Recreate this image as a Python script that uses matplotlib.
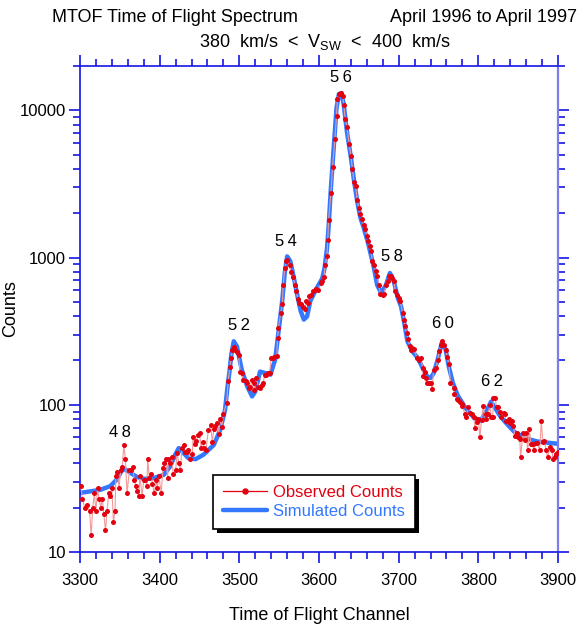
#############
# Libraries #
#############

import matplotlib
matplotlib.use("Agg")
import matplotlib.pyplot as plt
from matplotlib.patches import Rectangle
from matplotlib.transforms import IdentityTransform
from matplotlib.ticker import LogLocator, MultipleLocator, FixedLocator, NullFormatter
import numpy as np

########
# Data #
########

obs_channel = [
    3301, 3303, 3306, 3309, 3312, 3314, 3316, 3318, 3320, 3322, 3324, 3326, 3328, 3330,
    3332, 3334, 3336, 3338, 3340, 3342, 3344, 3345, 3347, 3349, 3351, 3353, 3355, 3357,
    3359, 3362, 3364, 3366, 3368, 3370, 3372, 3374, 3375, 3378, 3380, 3382, 3384, 3385,
    3387, 3389, 3391, 3393, 3396, 3397, 3399, 3402, 3404, 3406, 3408, 3410, 3411, 3413,
    3415, 3417, 3420, 3422, 3424, 3426, 3428, 3430, 3432, 3434, 3436, 3438, 3441, 3442,
    3444, 3446, 3448, 3450, 3452, 3454, 3456, 3458, 3461, 3464, 3466, 3468, 3470, 3472,
    3474, 3476, 3478, 3480,
    3484, 3486, 3488, 3490, 3491, 3493, 3495, 3497, 3499, 3501, 3503, 3505, 3508, 3510,
    3512, 3514, 3516, 3518, 3519, 3521, 3524, 3526, 3528, 3530, 3532, 3534, 3536, 3538,
    3540, 3542, 3544, 3547, 3548, 3549, 3552, 3554, 3555, 3557, 3559, 3560, 3563, 3565,
    3567, 3570, 3571, 3574, 3575, 3578, 3580, 3582, 3584, 3586, 3588, 3590, 3592, 3595,
    3596, 3599, 3602, 3604, 3606, 3608, 3610,
    3611, 3612, 3615, 3617, 3620, 3622, 3623, 3625, 3627, 3628, 3630, 3631, 3633, 3635,
    3638, 3640, 3642, 3644, 3646, 3648, 3650, 3652, 3654, 3656, 3658, 3660, 3662, 3664,
    3665, 3667, 3669, 3671, 3673, 3675, 3677, 3680, 3682, 3684, 3686, 3688, 3690, 3692,
    3694, 3696,
    3698, 3700, 3702, 3705, 3707, 3708, 3710, 3712, 3714, 3715, 3717, 3719, 3723, 3726,
    3728, 3730, 3731, 3733, 3734, 3736, 3738, 3740, 3742, 3744, 3747, 3749, 3751, 3753,
    3755, 3757, 3759, 3761, 3763,
    3765, 3769, 3770, 3773, 3775, 3777, 3779, 3780, 3783, 3785, 3787, 3790, 3792, 3794,
    3796, 3798, 3800, 3802, 3804, 3806, 3809, 3810, 3812, 3815, 3816, 3818, 3819, 3821,
    3823, 3825, 3827, 3829, 3832, 3833, 3835, 3838, 3840, 3842, 3844, 3846, 3848, 3850,
    3852, 3853, 3856, 3858, 3860, 3862, 3864, 3866, 3868, 3870, 3872, 3874, 3877, 3879,
    3881, 3883, 3885, 3887, 3890, 3892, 3894, 3896, 3898, 3900,
]

obs_counts = [
    28, 23, 20, 21, 19, 13, 20, 25, 19, 27, 23, 20, 23, 18,
    14, 19, 25, 24, 27, 16, 19, 33, 35, 27, 36, 38, 53, 43,
    25, 36, 36, 38, 31, 28, 26, 24, 33, 24, 31, 31, 28, 43,
    32, 34, 29, 25, 31, 27, 33, 25, 37, 40, 43, 32, 43, 40,
    44, 34, 36, 47, 40, 36, 51, 53, 48, 48, 49, 43, 46, 60,
    54, 57, 62, 64, 51, 56, 51, 49, 67, 73, 56, 68, 72, 75,
    63, 80, 71, 86,
    103, 144, 180, 208, 237, 246, 237, 227, 219, 168, 164, 148, 144, 141,
    130, 133, 148, 141, 126, 152, 133, 130, 137, 141, 160, 160, 164, 164,
    208, 208, 211, 216, 283, 333, 420, 480, 650, 850, 944, 963, 893, 803,
    735, 650, 590, 522, 493, 480, 465, 445, 505, 495, 550, 560, 590, 600,
    615, 600, 670, 689, 735, 893, 1030,
    1320, 1790, 2760, 4140, 6420, 9200, 11900, 12900, 13200, 12900, 12500, 10870, 8770, 7690,
    5870, 4890, 3970, 3250, 3055, 2455, 2155, 1982, 1833, 1658, 1575, 1397, 1292, 1195,
    1105, 944, 896, 807, 746, 655, 566, 560, 566, 655, 690, 746, 746, 728,
    690, 590,
    560, 530, 505, 420, 379, 342, 308, 278, 249, 237, 243, 240, 208, 203,
    208, 178, 157, 168, 152, 141, 141, 141, 128, 173, 178, 203, 231, 256,
    270, 256, 237, 212, 188,
    141, 131, 119, 109, 107, 104, 101, 98, 87, 83, 97, 88, 87, 83,
    70, 76, 80, 60, 79, 98, 80, 87, 87, 100, 82, 83, 111, 111,
    96, 97, 90, 83, 88, 86, 77, 80, 75, 77, 72, 61, 64, 60,
    59, 44, 64, 58, 64, 49, 68, 54, 54, 49, 55, 55, 49, 77,
    56, 57, 49, 44, 52, 49, 43, 44, 46, 48,
]

sim_channel = [
    3300, 3325, 3338, 3346, 3354, 3361, 3371, 3380, 3392, 3405, 3413, 3420, 3424, 3430,
    3436, 3445, 3455, 3468, 3476, 3482, 3485, 3488, 3490, 3493, 3497, 3503, 3510, 3516,
    3520, 3526, 3533, 3539, 3545, 3549, 3554, 3557, 3560, 3564, 3568, 3573, 3577, 3581,
    3585, 3589, 3596, 3602, 3604, 3607, 3610, 3612, 3615, 3619, 3622, 3625, 3628, 3631,
    3635, 3640, 3644, 3648, 3652, 3656, 3661, 3665, 3669, 3673, 3678, 3684, 3689, 3694,
    3699, 3703, 3707, 3711, 3717, 3724, 3730, 3736, 3740, 3744, 3749, 3754, 3759, 3763,
    3768, 3774, 3784, 3795, 3803, 3809, 3816, 3821, 3828, 3837, 3845, 3858, 3874, 3900,
]

sim_counts = [
    25.2, 26.4, 28, 31, 37.1, 35.2, 32.4, 31.4, 31.7, 33.4, 38, 46.4, 50.8, 47,
    43.4, 42.7, 45.8, 53.4, 67.6, 92, 130, 175, 220, 270, 249, 173, 133, 114,
    123, 168, 164, 160, 203, 307, 519, 786, 1018, 944, 748, 546, 433, 379,
    398, 505, 604, 689, 720, 850, 1150, 1600, 3000, 6130, 10400, 12900, 13100, 11000,
    7200, 4800, 3320, 2400, 1860, 1600, 1290, 1050, 850, 650, 575, 650, 785, 688,
    530, 465, 360, 270, 231, 208, 178, 155, 152, 164, 203, 263, 237, 181,
    141, 116, 95, 81, 78, 88, 105, 95, 83, 73, 65.7, 59.5, 56.3, 54.3,
]

peak_labels = ["48", "52", "54", "56", "58", "60", "62"]
peak_channel = [3350, 3500, 3558, 3628, 3691, 3755, 3817]
peak_label_counts = [65, 345, 1290, 16800, 1010, 355, 143]

#############
# Functions #
#############

def style_axes(ax):
    """
    Blue frame, outward ticks on all four sides.
    """
    axis_blue = "#1414e6"
    for side in ["left", "bottom", "top"]:
        ax.spines[side].set_color(axis_blue)
        ax.spines[side].set_linewidth(1.2)
    ax.spines["right"].set_color("#7d7dee")
    ax.spines["right"].set_linewidth(1.6)

    ax.set_xlim(3300, 3900)
    ax.set_ylim(10, 20000)
    ax.set_yscale("log")
    ax.xaxis.set_major_locator(MultipleLocator(100))
    ax.xaxis.set_minor_locator(MultipleLocator(20))
    ax.yaxis.set_major_locator(FixedLocator([10, 100, 1000, 10000]))
    ax.yaxis.set_minor_locator(LogLocator(base=10, subs=np.arange(2, 10)))
    ax.yaxis.set_minor_formatter(NullFormatter())
    ax.set_yticklabels(["10", "100", "1000", "10000"])

    ax.tick_params(which="both", direction="out", color=axis_blue,
                   top=True, right=True, labelsize=12, width=1.2)
    ax.tick_params(which="major", length=8)
    ax.tick_params(which="minor", length=5)
    ax.tick_params(axis="x", pad=7)
    ax.tick_params(axis="y", pad=2)
    return

def add_legend_shadow(fig, ax, leg):
    """
    Solid black drop shadow, a few pixels right and down of the legend box.
    """
    fig.canvas.draw()
    bb = leg.get_frame().get_window_extent()
    shadow = Rectangle((bb.x0 + 4, bb.y0 - 4), bb.width, bb.height,
                       transform=IdentityTransform(), facecolor="black",
                       edgecolor="none", zorder=4.5, clip_on=False)
    ax.add_artist(shadow)
    return

###########
# Program #
###########

if __name__ == '__main__':
    plt.rcParams["font.family"] = ["Liberation Sans", "DejaVu Sans"]
    plt.rcParams["mathtext.fontset"] = "custom"
    plt.rcParams["mathtext.rm"] = "Liberation Sans"
    plt.rcParams["mathtext.it"] = "Liberation Sans"

    fig = plt.figure(figsize=(5.87, 6.30), dpi=100)
    ax = fig.add_axes([80 / 587, 1 - 552 / 630, 478 / 587, (552 - 66) / 630])

    h_sim, = ax.plot(sim_channel, sim_counts, color="#3378ff", lw=3.2,
                     solid_joinstyle="round", solid_capstyle="round", zorder=2)
    ax.plot(obs_channel, obs_counts, color="#f29a9a", lw=0.8, zorder=3)
    ax.plot(obs_channel, obs_counts, "o", color="#e3000f", ms=3.6, mec="none", zorder=4)

    for lab, ch, ct in zip(peak_labels, peak_channel, peak_label_counts):
        ax.text(ch, ct, "\u2009".join(lab), ha="center", va="center",
                fontsize=12, color="black")

    style_axes(ax)

    # legend handle for the observed series: thin line with one marker
    h_obs, = ax.plot([np.nan] * 3, [np.nan] * 3, color="#e3000f", lw=0.9,
                     marker="o", ms=3.6, markevery=[1])
    leg = ax.legend([h_obs, h_sim], ["Observed Counts", "Simulated Counts"],
                    loc="center", bbox_to_anchor=(0.49, 0.103), fontsize=12,
                    handlelength=2.6, handletextpad=0.4, labelspacing=0.25,
                    borderpad=0.6, fancybox=False, framealpha=1,
                    edgecolor="black")
    leg.get_frame().set_linewidth(1.2)
    leg.get_texts()[0].set_color("#e3000f")
    leg.get_texts()[1].set_color("#3378ff")

    ax.set_xlabel("Time of Flight Channel", fontsize=13, labelpad=14)
    ax.set_ylabel("Counts", fontsize=13)
    ax.yaxis.set_label_coords((19 - 80) / 478, 0.5)

    fig.text(52 / 587, 1 - 18 / 630, "MTOF Time of Flight Spectrum",
             fontsize=13, ha="left", va="center")
    fig.text(390 / 587, 1 - 18 / 630, "April 1996 to April 1997",
             fontsize=13, ha="left", va="center")
    fig.text(325 / 587, 1 - 42 / 630, r"380  km/s  <  V$_{\mathrm{SW}}$  <  400  km/s",
             fontsize=13, ha="center", va="center")

    add_legend_shadow(fig, ax, leg)

    fig.savefig("out.png", dpi=100)
